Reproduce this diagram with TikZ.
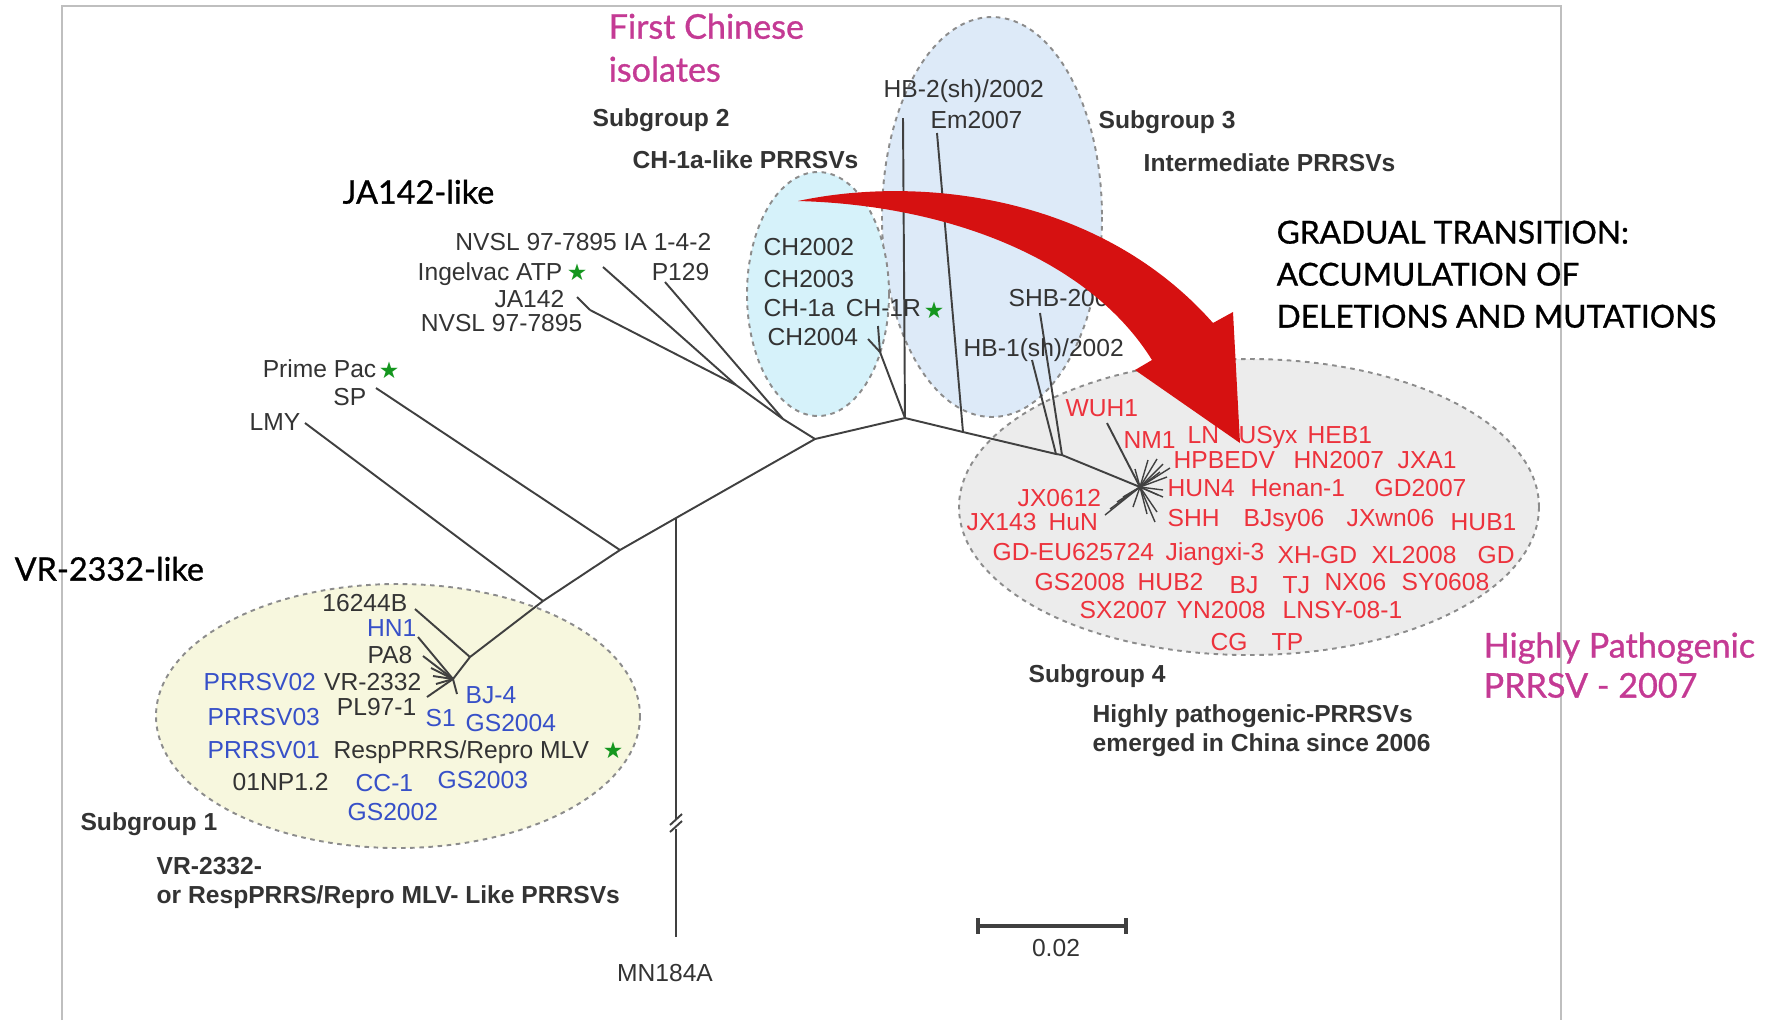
\documentclass[tikz,border=0pt]{standalone}
\usepackage{fontspec}
\setmainfont{Liberation Sans}
\newfontfamily\slidefont{Lato}[FakeBold=0.9]
\newfontfamily\starfont{DejaVu Sans}
\usepackage{tikz}
\definecolor{hpred}{RGB}{236,50,60}
\definecolor{vrblue}{RGB}{55,80,200}
\definecolor{starg}{RGB}{20,150,30}
\definecolor{arrowred}{RGB}{214,17,17}
\definecolor{slidemag}{RGB}{196,58,148}
\definecolor{sgone}{RGB}{247,247,222}
\definecolor{sgtwo}{RGB}{214,242,250}
\definecolor{sgthree}{RGB}{221,234,248}
\definecolor{sgfour}{RGB}{236,236,236}

\begin{document}
\begin{tikzpicture}[x=0.01cm, y=-0.01cm,
  lab/.style={inner sep=0pt, text=black!80, font=\fontsize{7}{8.3}\selectfont, yshift=-2.5pt},
  hp/.style={lab, text=hpred, anchor=base west},
  vr/.style={lab, text=vrblue},
  sg/.style={lab, font=\fontsize{7}{8.3}\selectfont\bfseries, align=left, anchor=base west},
  slide/.style={inner sep=0pt, align=left, anchor=base west, yshift=-3.3pt},
  grp/.style={draw=black!45, dash pattern=on 1.3pt off 1.3pt, line width=0.55pt},
  br/.style={draw=black!75, line width=0.55pt, line join=round},
  st/.style={inner sep=0pt, text=starg, font=\fontsize{6.5}{7}\selectfont\starfont}]
  \useasboundingbox (0,0) rectangle (1775,1020);
  \coordinate (f1) at (62,1020); \coordinate (f2) at (62,6);
  \coordinate (f3) at (1561,6);  \coordinate (f4) at (1561,1020);
  \draw[black!25, line width=0.4pt] (f1) -- (f2) -- (f3) -- (f4);

  \coordinate (sg4) at (1249,507); \coordinate (sg3) at (992,217);
  \coordinate (sg2) at (818,294);  \coordinate (sg1) at (398,716);
  \draw[grp, fill=sgfour]  (sg4) ellipse [x radius=290, y radius=148];
  \draw[grp, fill=sgthree] (sg3) ellipse [x radius=110, y radius=200];
  \draw[grp, fill=sgtwo]   (sg2) ellipse [x radius=71, y radius=122];
  \draw[grp, fill=sgone]   (sg1) ellipse [x radius=242, y radius=132];

  \coordinate (n1) at (543,601);  \coordinate (n2) at (620,550);
  \coordinate (n3) at (676,518);  \coordinate (n4) at (815,439);
  \coordinate (n5) at (905,418);  \coordinate (e1) at (963,432);
  \coordinate (h0) at (1056,454); \coordinate (h1) at (1062,455);
  \coordinate (s4) at (1140,487);
  \coordinate (j1) at (736,385);  \coordinate (j2) at (783,419);
  \coordinate (j3) at (590,310);  \coordinate (c1) at (880,352);
  \coordinate (v1) at (470,657);  \coordinate (v2) at (453,679);
  \coordinate (t-ingel) at (603,267); \coordinate (t-ja) at (577,297);
  \coordinate (t-p129) at (665,282);  \coordinate (t-sp) at (376,388);
  \coordinate (t-lmy) at (305,423);   \coordinate (t-ch4) at (868,339);
  \coordinate (t-ch1r) at (878,326);  \coordinate (t-hb2) at (903,118);
  \coordinate (t-em) at (937,133);    \coordinate (t-hb1) at (1032,360);
  \coordinate (t-shb) at (1040,313);  \coordinate (t-nm1) at (1107,423);
  \coordinate (t-16) at (415,609);    \coordinate (t-hn1) at (418,637);
  \coordinate (t-pa8) at (423,656);   \coordinate (t-vra) at (431,668);
  \coordinate (t-vrb) at (433,676);   \coordinate (t-vrc) at (436,684);
  \coordinate (t-pl) at (427,697);    \coordinate (t-bj) at (457,694);
  \coordinate (mn-a) at (676,820);    \coordinate (mn-b) at (676,829);
  \coordinate (t-mn) at (676,937);
  \coordinate (bk1) at (670,825); \coordinate (bk2) at (682,814);
  \coordinate (bk3) at (670,832); \coordinate (bk4) at (682,821);

  \draw[br] (v2) -- (v1) -- (n1) -- (n2) -- (n3) -- (n4) -- (n5) -- (e1) -- (h0) -- (h1) -- (s4);
  \path[br]
  (n1) edge (t-lmy)
  (n2) edge (t-sp)
  (n3) edge (mn-a)
  (mn-b) edge (t-mn)
  (bk1) edge (bk2)
  (bk3) edge (bk4)
  (n4) edge (j2)
  (j2) edge (j1)
       edge (t-p129)
  (j1) edge (t-ingel)
       edge (j3)
  (j3) edge (t-ja)
  (n5) edge (c1)
       edge (t-hb2)
  (c1) edge (t-ch4)
       edge (t-ch1r)
  (e1) edge (t-em)
  (h0) edge (t-hb1)
  (h1) edge (t-shb)
  (s4) edge (t-nm1)
  (v1) edge (t-16)
  (v2) edge (t-hn1)
       edge (t-pa8)
       edge (t-vra)
       edge (t-vrb)
       edge (t-vrc)
       edge (t-pl)
       edge (t-bj);
  \foreach \dx/\dy [count=\i] in {8/-27,17/-28,23/-23,30/-19,20/-15,27/-10,23/3,18/8,23/10,17/25,15/35,7/27,-7/20,-23/15,-35/28,-30/22,-17/10,-5/-18}
    {\path (s4) ++(\dx,\dy) coordinate (ray-\i);
     \path[br, line width=0.4pt] (s4) edge (ray-\i);}

  \coordinate (sb-l) at (978,926); \coordinate (sb-r) at (1126,926);
  \coordinate (sb-la) at (978,918); \coordinate (sb-lb) at (978,934);
  \coordinate (sb-ra) at (1126,918); \coordinate (sb-rb) at (1126,934);
  \path[br, line width=0.9pt] (sb-l) edge (sb-r) (sb-la) edge (sb-lb) (sb-ra) edge (sb-rb);
  \node[lab, anchor=base] (scale) at (1056,948) {0.02};

  \node[lab, anchor=base east] (nvsl-ia) at (712,242) {NVSL 97-7895 IA 1-4-2};
  \node[lab, anchor=base east] (ingel) at (563,272) {Ingelvac ATP};
  \node[st] (st-ingel) at (577,272) {★};
  \node[lab, anchor=base east] (p129) at (710,272) {P129};
  \node[lab, anchor=base east] (ja142) at (565,299) {JA142};
  \node[lab, anchor=base east] (nvsl) at (583,323) {NVSL 97-7895};
  \node[lab, anchor=base east] (prime) at (377,369) {Prime Pac};
  \node[st] (st-prime) at (389,370) {★};
  \node[lab, anchor=base east] (sp) at (367,397) {SP};
  \node[lab, anchor=base east] (lmy) at (301,422) {LMY};
  \node[lab, anchor=base] (mn184a) at (665,973) {MN184A};

  \node[lab, anchor=base west] (ch2002) at (763,247) {CH2002};
  \node[lab, anchor=base west] (ch2003) at (763,279) {CH2003};
  \node[lab, anchor=base west] (ch1a) at (763,308) {CH-1a\, CH-1R};
  \node[st] (st-ch1r) at (934,310) {★};
  \node[lab, anchor=base west] (ch2004) at (767,337) {CH2004};
  \node[lab, anchor=base west] (hb2) at (883,89) {HB-2(sh)/2002};
  \node[lab, anchor=base west] (em2007) at (930,120) {Em2007};
  \node[lab, anchor=base west] (shb) at (1008,298) {SHB-200};
  \node[lab, anchor=base west] (hb1) at (963,348) {HB-1(sh)/2002};

  \node[lab, anchor=base east] (l16244b) at (408,603) {16244B};
  \node[vr, anchor=base east] (hn1) at (417,628) {HN1};
  \node[lab, anchor=base east] (pa8) at (413,655) {PA8};
  \node[vr, anchor=base west] (prrsv02) at (203,682) {PRRSV02};
  \node[lab, anchor=base east] (vr2332) at (422,682) {VR-2332};
  \node[lab, anchor=base east] (pl971) at (417,707) {PL97-1};
  \node[vr, anchor=base west] (bj4) at (465,695) {BJ-4};
  \node[vr, anchor=base west] (s1) at (425,718) {S1};
  \node[vr, anchor=base west] (gs2004) at (465,723) {GS2004};
  \node[vr, anchor=base west] (prrsv03) at (207,717) {PRRSV03};
  \node[vr, anchor=base west] (prrsv01) at (207,750) {PRRSV01};
  \node[lab, anchor=base west] (resp) at (333,750) {RespPRRS/Repro MLV};
  \node[st] (st-resp) at (613,750) {★};
  \node[lab, anchor=base west] (np12) at (232,782) {01NP1.2};
  \node[vr, anchor=base west] (cc1) at (355,783) {CC-1};
  \node[vr, anchor=base west] (gs2003) at (437,780) {GS2003};
  \node[vr, anchor=base west] (gs2002) at (347,812) {GS2002};

  \foreach \t/\x/\y in {WUH1/1065/408, NM1/1123/440, LN/1187/435, USyx/1238/435, HEB1/1307/435,
      HPBEDV/1173/460, HN2007/1293/460, JXA1/1397/460, HUN4/1167/488, Henan-1/1250/488, GD2007/1374/488,
      JX0612/1017/498, JX143/966/522, HuN/1048/522, SHH/1167/518, BJsy06/1243/518, JXwn06/1346/518, HUB1/1450/522,
      GD-EU625724/992/552, Jiangxi-3/1165/552, XH-GD/1277/555, XL2008/1371/555, GD/1477/555,
      GS2008/1034/582, HUB2/1137/582, BJ/1229/585, TJ/1282/585, NX06/1324/582, SY0608/1401/582,
      SX2007/1079/610, YN2008/1176/610, LNSY-08-1/1282/610, CG/1210/642, TP/1271/642}
    \node[hp] (hp-\t) at (\x,\y) {\t};

  \node[sg] (sub2) at (592,118) {Subgroup 2};
  \node[sg] (sub2t) at (632,160) {CH-1a-like PRRSVs};
  \node[sg] (sub3) at (1098,120) {Subgroup 3};
  \node[sg] (sub3t) at (1143,163) {Intermediate PRRSVs};
  \node[sg] (sub4) at (1028,674) {Subgroup 4};
  \node[sg] (sub4t) at (1092,743) {Highly pathogenic-PRRSVs\\emerged in China since 2006};
  \node[sg, anchor=base east] (sub1) at (218,822) {Subgroup 1};
  \node[sg] (sub1t) at (156,895) {VR-2332-\\or RespPRRS/Repro MLV- Like PRRSVs};

  \coordinate (ar-t) at (798,201);   \coordinate (ar-so) at (1213,323);
  \coordinate (ar-hr) at (1233,312); \coordinate (ar-tip) at (1240,443);
  \coordinate (ar-hl) at (1135,370); \coordinate (ar-si) at (1152,360);
  \fill[arrowred] (ar-t) .. controls (920,175) and (1100,195) .. (ar-so) -- (ar-hr) -- (ar-tip)
    -- (ar-hl) -- (ar-si) .. controls (1090,260) and (950,205) .. (ar-t) -- cycle;

  \node[slide, text=slidemag, font=\fontsize{9.7}{12.2}\selectfont\slidefont] (first) at (608,70) {First Chinese\\isolates};
  \node[slide, font=\fontsize{9.2}{11}\selectfont\slidefont] (jalike) at (342,192) {JA142-like};
  \node[slide, font=\fontsize{9.2}{11}\selectfont\slidefont] (vrlike) at (14,569) {VR-2332-like};
  \node[slide, font=\fontsize{9}{11.95}\selectfont\slidefont] (gradual) at (1276,316) {GRADUAL TRANSITION:\\ACCUMULATION OF\\DELETIONS AND MUTATIONS};
  \node[slide, text=slidemag, font=\fontsize{9.7}{11.4}\selectfont\slidefont] (hpprrsv) at (1483,686) {Highly Pathogenic\\PRRSV - 2007};
\end{tikzpicture}
\end{document}
